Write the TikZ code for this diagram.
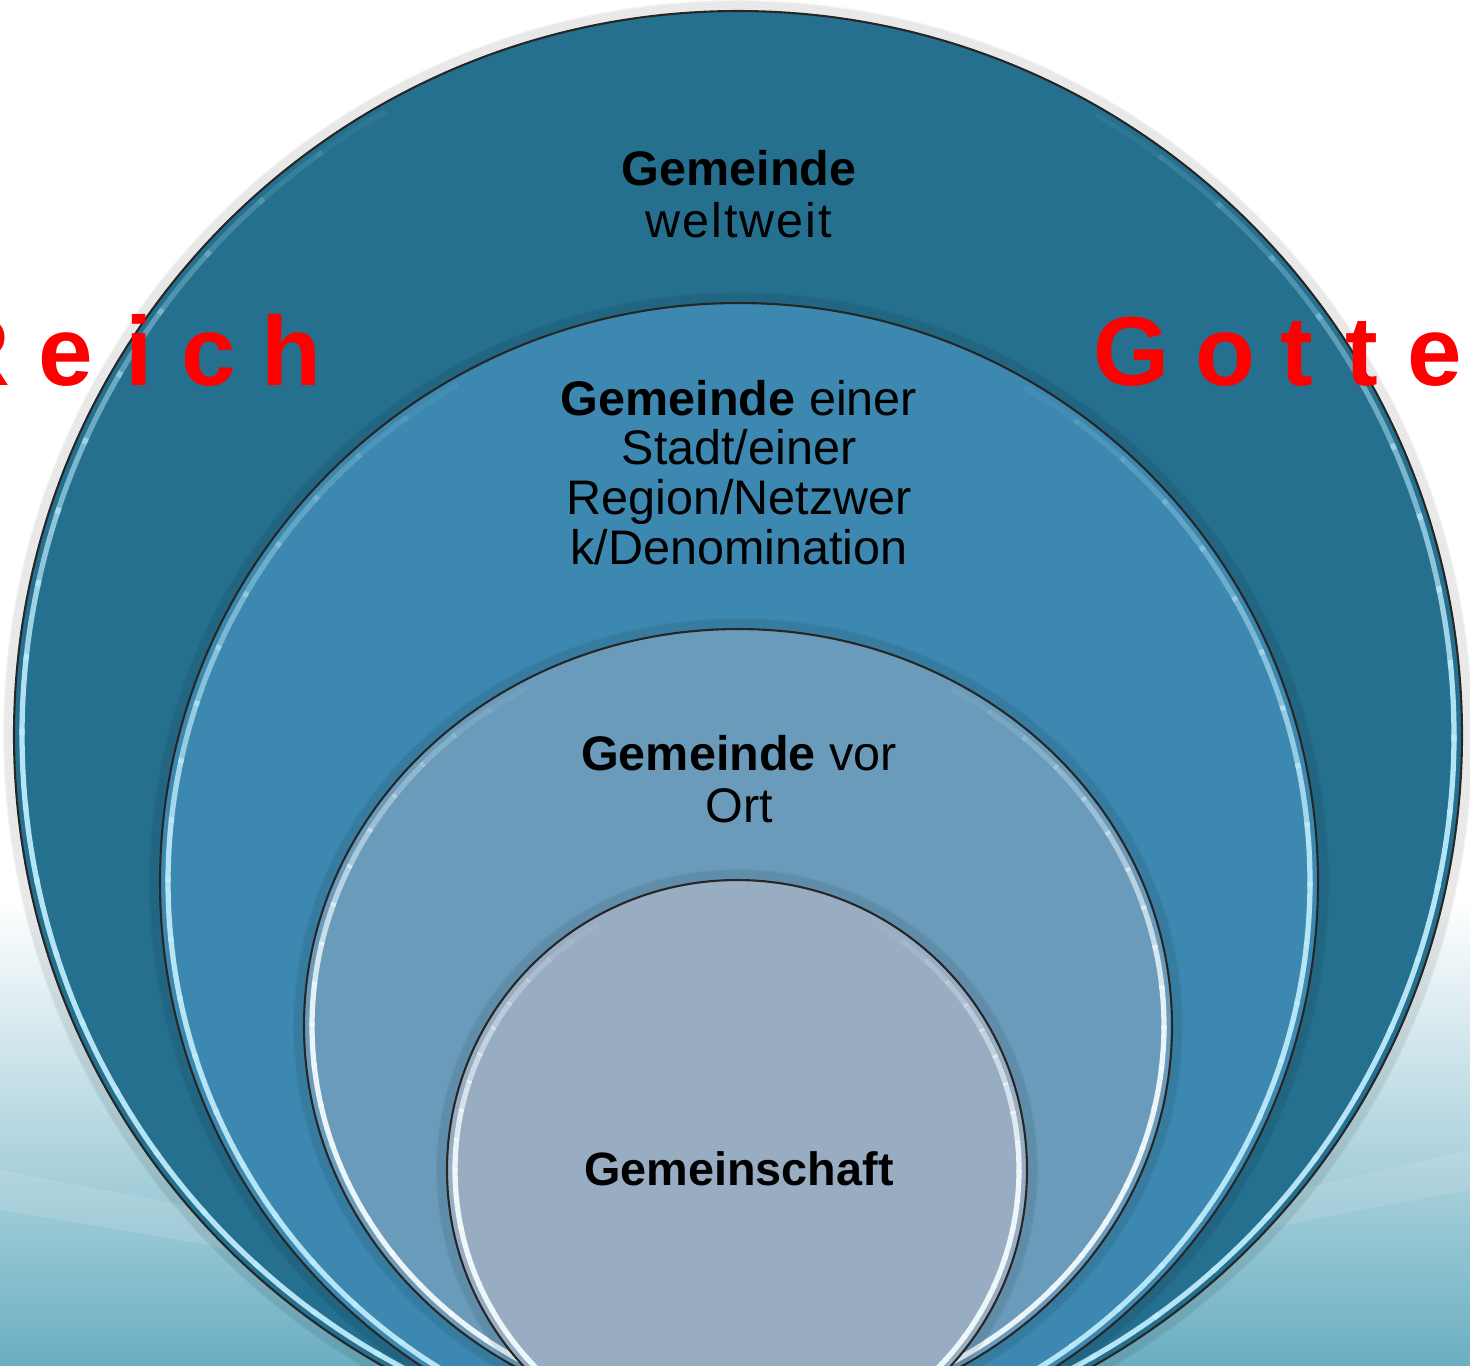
\documentclass[tikz,border=0pt]{standalone}
\usepackage{fontspec}
\setmainfont{Liberation Sans}
\usetikzlibrary{calc}
\definecolor{ringA}{HTML}{25708F}
\definecolor{ringB}{HTML}{3D88B0}
\definecolor{ringC}{HTML}{6A9BBA}
\definecolor{ringD}{HTML}{98ADC2}
\definecolor{hlA}{HTML}{BDEBFA}
\definecolor{hlB}{HTML}{F2FAFD}
\definecolor{bgmid}{HTML}{CFE7EE}
\definecolor{bgteal}{HTML}{6BAFC2}
\definecolor{reichred}{HTML}{FF0000}
\newcommand\drawring[6]{%
  \foreach \k in {1,...,6}{\draw[black, opacity=0.05, line width=0.75pt] (#1,#2) ellipse [x radius={#3+\k*1.6}, y radius={#4+\k*1.6}];}
  \fill[#5] (#1,#2) ellipse [x radius=#3, y radius=#4];
  \foreach \a in {0,6,...,354}{%
    \pgfmathsetmacro\op{min(0.95,max(0,(1+sin(\a+3))*1.1-0.12))}%
    \draw[#6, line width=1.5pt, opacity=\op] ($(#1,#2)+(\a:{#3-8} and {#4-8})$) arc[start angle=\a, end angle=\a+6.5, x radius={#3-8}, y radius={#4-8}];
  }
  \draw[black!85, line width=0.6pt] (#1,#2) ellipse [x radius=#3, y radius=#4];
}
\tikzset{
  txt/.style={anchor=base, inner sep=0pt, font=\fontsize{13.8}{16}\selectfont},
  boldtxt/.style={txt, font=\fontsize{13.8}{16}\selectfont\bfseries},
  redletter/.style={anchor=base, inner sep=0pt, text=reichred, font=\fontsize{27.9}{30}\selectfont\bfseries}
}
\begin{document}
\begin{tikzpicture}[x=0.01cm,y=-0.01cm]
\useasboundingbox (0,0) rectangle (1470,1365);
\clip (0,0) rectangle (1470,1365);
% background
\fill[white] (0,0) rectangle (1470,1365);
\shade[top color=white, middle color=bgmid, bottom color=bgteal] (0,900) rectangle (1470,1365);
\fill[white, opacity=0.12] (0,1170) .. controls (150,1200) and (400,1240) .. (700,1320) -- (700,1345) .. controls (400,1275) and (150,1235) .. (0,1210) -- cycle;
\fill[white, opacity=0.1] (1470,1150) .. controls (1300,1190) and (1100,1230) .. (900,1300) -- (900,1325) .. controls (1100,1260) and (1300,1220) .. (1470,1190) -- cycle;
% rings
\drawring{738}{735}{724}{724}{ringA}{hlA}
\drawring{739}{882}{579}{579}{ringB}{hlA}
\drawring{738}{1026}{434}{397}{ringC}{hlB}
\drawring{737}{1170}{290}{290}{ringD}{hlB}
% texts
\node[boldtxt] (t1a) at (739,185) {Gemeinde};
\node[txt] (t1b) at (739,237) {\addfontfeature{LetterSpace=4}weltweit};
\node[txt] (t2a) at (739,415) {\textbf{Gemeinde} einer};
\node[txt] (t2b) at (739,464) {Stadt/einer};
\node[txt] (t2c) at (739,514) {Region/Netzwer};
\node[txt] (t2d) at (739,564) {k/Denomination};
\node[txt] (t3a) at (739,770) {\textbf{Gemeinde} vor};
\node[txt] (t3b) at (739,822) {Ort};
\node[boldtxt, font=\fontsize{13.3}{16}\selectfont\bfseries] (t4) at (739,1185) {Gemeinschaft};
% red letters
\node[redletter] (r1) at (-25,385) {R};
\node[redletter] (r2) at (66,385) {e};
\node[redletter] (r3) at (139,385) {i};
\node[redletter] (r4) at (209,385) {c};
\node[redletter] (r5) at (291,385) {h};
\node[redletter] (g1) at (1132,385) {G};
\node[redletter] (g2) at (1225,385) {o};
\node[redletter] (g3) at (1297,385) {t};
\node[redletter] (g4) at (1362,385) {t};
\node[redletter] (g5) at (1435,385) {e};
\node[redletter] (g6) at (1512,385) {s};
\end{tikzpicture}
\end{document}
